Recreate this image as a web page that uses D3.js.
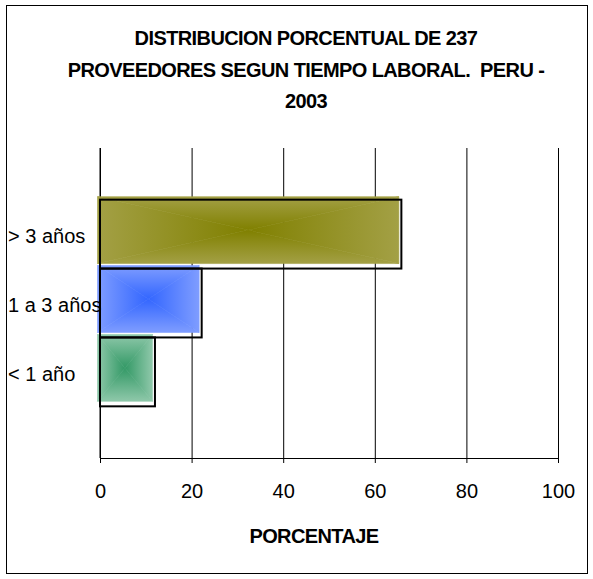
<!DOCTYPE html>
<meta charset="utf-8">
<head>
    <title>Distribucion porcentual de proveedores</title>
    <script src="https://d3js.org/d3.v7.min.js"></script>
</head>

<style>
body { margin: 0; background: #fff; }
svg { display: block; font-family: "Liberation Sans", Arial, sans-serif; }
.grid line { stroke: #000; stroke-width: 1; }
.grid path { display: none; }
.xaxis path, .xaxis line { stroke: #000; }
.xaxis text { font-size: 20px; fill: #000; }
.cat { font-size: 20px; fill: #000; }
.title { font-size: 20px; font-weight: bold; letter-spacing: -0.6px; white-space: pre; }
</style>

<body>
<svg></svg>

<script>

// data
let categories = ["< 1 año", "1 a 3 años", "> 3 años"];
let porcentaje = [12.0, 22.2, 65.8];
let xTicks = [0, 20, 40, 60, 80, 100];
let titleLines = [
  "DISTRIBUCION PORCENTUAL DE 237",
  "PROVEEDORES SEGUN TIEMPO LABORAL.  PERU -",
  "2003"
];
let xTitle = "PORCENTAJE";

// edge / centre colours for each bar's box gradient
let edgeColors = ["#8fc8aa", "#7f9dff", "#a3a045"];
let centerColors = ["#339966", "#3366ff", "#808000"];

let W = 593, H = 579;
let plot = {left: 100, right: 558, top: 148, bottom: 458};

let svg = d3.select("svg").attr("width", W).attr("height", H);

// chart border
svg.append("rect")
    .attr("x", 6.5).attr("y", 5.5)
    .attr("width", 581).attr("height", 568)
    .attr("fill", "#fff").attr("stroke", "#000");

let x = d3.scaleLinear().domain([0, 100]).range([plot.left, plot.right]);

// first category sits at the bottom
let y = d3.scaleBand()
    .domain(categories.slice().reverse())
    .range([plot.top, plot.bottom])
    .paddingInner(0)
    .paddingOuter(0.75);

// gridlines
svg.append("g")
    .attr("class", "grid")
    .attr("transform", "translate(0," + plot.bottom + ")")
    .call(d3.axisBottom(x).tickValues(xTicks).tickSize(-(plot.bottom - plot.top)).tickFormat(""));

// x axis
svg.append("g")
    .attr("class", "xaxis")
    .attr("transform", "translate(0," + plot.bottom + ")")
    .call(d3.axisBottom(x).tickValues(xTicks).tickSize(5).tickSizeOuter(0))
    .call(g => g.selectAll("text").attr("y", 40).attr("dy", 0));

// left axis line
svg.append("line")
    .attr("x1", plot.left).attr("x2", plot.left)
    .attr("y1", plot.top).attr("y2", plot.bottom)
    .attr("stroke", "#000");

// gradients: 4 triangles per bar, each a linear ramp edge -> centre
let defs = svg.append("defs");
let sides = {
  top:    {x1: 0, y1: 0, x2: 0, y2: 1},
  bottom: {x1: 0, y1: 1, x2: 0, y2: 0},
  left:   {x1: 0, y1: 0, x2: 1, y2: 0},
  right:  {x1: 1, y1: 0, x2: 0, y2: 0}
};
categories.forEach(function(c, i) {
  Object.keys(sides).forEach(function(s) {
    let g = defs.append("linearGradient")
        .attr("id", "g" + i + s)
        .attr("x1", sides[s].x1).attr("y1", sides[s].y1)
        .attr("x2", sides[s].x2).attr("y2", sides[s].y2);
    g.append("stop").attr("offset", 0).attr("stop-color", edgeColors[i]);
    g.append("stop").attr("offset", 1).attr("stop-color", centerColors[i]);
  });
});

// bars
let bars = svg.selectAll(".bar")
    .data(categories)
    .enter()
    .append("g")
    .attr("class", "bar");

bars.each(function(c, i) {
  let g = d3.select(this);
  let bx = x(0) - 2.5, by = y(c) - 3;
  let bw = x(porcentaje[i]) - x(0), bh = y.bandwidth() - 2;
  let cx = bx + bw / 2, cy = by + bh / 2;
  let tris = {
    top:    [[bx, by], [bx + bw, by], [cx, cy]],
    bottom: [[bx, by + bh], [bx + bw, by + bh], [cx, cy]],
    left:   [[bx, by], [bx, by + bh], [cx, cy]],
    right:  [[bx + bw, by], [bx + bw, by + bh], [cx, cy]]
  };
  Object.keys(tris).forEach(function(s) {
    g.append("path")
      .attr("d", "M" + tris[s].join("L") + "Z")
      .attr("fill", "url(#g" + i + s + ")")
      .attr("stroke", "url(#g" + i + s + ")")
      .attr("stroke-width", 0.6);
  });
  g.append("rect")
    .attr("x", x(0))
    .attr("y", y(c))
    .attr("width", x(porcentaje[i]) - x(0))
    .attr("height", y.bandwidth())
    .attr("fill", "none")
    .attr("stroke", "#000")
    .attr("stroke-width", 2);
});

// category labels
svg.selectAll(".cat")
    .data(categories)
    .enter()
    .append("text")
    .attr("class", "cat")
    .attr("x", 8)
    .attr("y", d => y(d) + y.bandwidth() / 2 + 9)
    .text(d => d);

// title
svg.append("text")
    .attr("class", "title")
    .attr("text-anchor", "middle")
    .selectAll("tspan")
    .data(titleLines)
    .enter()
    .append("tspan")
    .attr("x", 306)
    .attr("y", (d, i) => 45 + i * 31.5)
    .text(d => d);

// x axis title
svg.append("text")
    .attr("x", 314)
    .attr("y", 543)
    .attr("text-anchor", "middle")
    .attr("font-size", "20px")
    .attr("font-weight", "bold")
    .attr("letter-spacing", "-0.6px")
    .text(xTitle);

</script>
</body>
